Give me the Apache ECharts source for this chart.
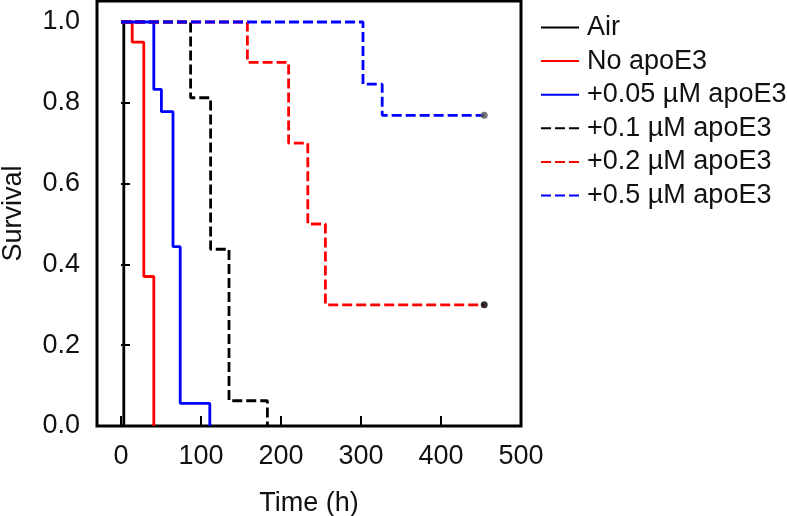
<!DOCTYPE html>
<html>
<head>
<meta charset="utf-8">
<script src="https://cdn.jsdelivr.net/npm/echarts@6/dist/echarts.min.js"></script>
<style>
  html, body { margin: 0; padding: 0; background: #fff; }
  #chart { width: 787px; height: 516px; }
</style>
</head>
<body>
<div id="chart"></div>
<script>
// survival curves (time in h, fraction surviving)
const airTime = [0, 3.5];
const airSurv = [1, 0];
const noApoTime = [0, 14, 28.5, 41];
const noApoSurv = [1, 0.95, 0.37, 0];
const apo005Time = [0, 41, 50.5, 65, 74, 111];
const apo005Surv = [1, 0.833, 0.778, 0.444, 0.056, 0];
const apo01Time = [0, 87, 112, 135, 183];
const apo01Surv = [1, 0.8125, 0.4375, 0.0625, 0];
const apo02Time = [0, 158, 209.5, 233.5, 255.5, 454];
const apo02Surv = [1, 0.9, 0.7, 0.5, 0.3, 0.3];
const apo05Time = [0, 302.5, 326.5, 454];
const apo05Surv = [1, 0.846, 0.769, 0.769];

// censored end points
const censor02 = [454, 0.3];
const censor05 = [454, 0.769];

const seriesNames = ['Air', 'No apoE3', '+0.05 µM apoE3', '+0.1 µM apoE3', '+0.2 µM apoE3', '+0.5 µM apoE3'];
const xTicks = [0, 100, 200, 300, 400, 500];
const yTicks = [0, 0.2, 0.4, 0.6, 0.8, 1.0];

const FONT = 'Liberation Sans, Arial, sans-serif';
const DASH = [10, 4];

function pairs(t, s) {
  return t.map((v, i) => [v, s[i]]);
}

function stepLine(name, t, s, color, dashed) {
  return {
    name: name,
    type: 'line',
    step: 'end',
    symbol: 'none',
    data: pairs(t, s),
    lineStyle: { color: color, width: 2.8, type: dashed ? DASH : 'solid' },
    itemStyle: { color: color },
    animation: false
  };
}

function dot(p, color) {
  return {
    type: 'scatter',
    data: [p],
    symbolSize: 7,
    itemStyle: { color: color },
    z: 5,
    animation: false
  };
}

const chart = echarts.init(document.getElementById('chart'));
chart.setOption({
  backgroundColor: '#fff',
  textStyle: { fontFamily: FONT },
  grid: {
    left: 97, right: 266, top: 1, bottom: 90,
    outerBoundsMode: 'none',
    containLabel: false,
    show: true, borderColor: '#000', borderWidth: 3
  },
  legend: {
    data: seriesNames,
    orient: 'vertical',
    left: 535,
    top: 9,
    itemWidth: 38,
    itemHeight: 2,
    itemGap: 6.6,
    lineStyle: { width: 2 },
    itemStyle: { opacity: 0 },
    textStyle: { fontSize: 27, lineHeight: 26, color: '#111', fontFamily: FONT, padding: [0, 0, 0, 3] }
  },
  xAxis: {
    type: 'value',
    min: -30,
    max: 500,
    name: 'Time (h)',
    nameLocation: 'middle',
    nameGap: 64,
    nameTextStyle: { fontSize: 27, color: '#111', fontFamily: FONT },
    splitLine: { show: false },
    axisLine: { show: false },
    axisTick: { inside: true, length: 10, customValues: xTicks, lineStyle: { color: '#000', width: 2 } },
    axisLabel: { customValues: xTicks, fontSize: 27, color: '#111', margin: 17, fontFamily: FONT }
  },
  yAxis: {
    type: 'value',
    min: 0,
    max: 1.052,
    name: 'Survival',
    nameLocation: 'middle',
    nameGap: 70,
    nameTextStyle: { fontSize: 27, color: '#111', fontFamily: FONT },
    splitLine: { show: false },
    axisLine: { show: false },
    axisTick: { inside: true, length: 9, customValues: yTicks, lineStyle: { color: '#000', width: 2 } },
    axisLabel: {
      customValues: yTicks, fontSize: 27, color: '#111', margin: 17, fontFamily: FONT,
      formatter: v => v.toFixed(1)
    }
  },
  series: [
    stepLine(seriesNames[0], airTime, airSurv, '#000', false),
    stepLine(seriesNames[1], noApoTime, noApoSurv, '#ff0000', false),
    stepLine(seriesNames[2], apo005Time, apo005Surv, '#0000ff', false),
    stepLine(seriesNames[3], apo01Time, apo01Surv, '#000', true),
    stepLine(seriesNames[4], apo02Time, apo02Surv, '#ff0000', true),
    stepLine(seriesNames[5], apo05Time, apo05Surv, '#0000ff', true),
    dot(censor02, '#000'),
    dot(censor05, '#555')
  ]
});
</script>
</body>
</html>
